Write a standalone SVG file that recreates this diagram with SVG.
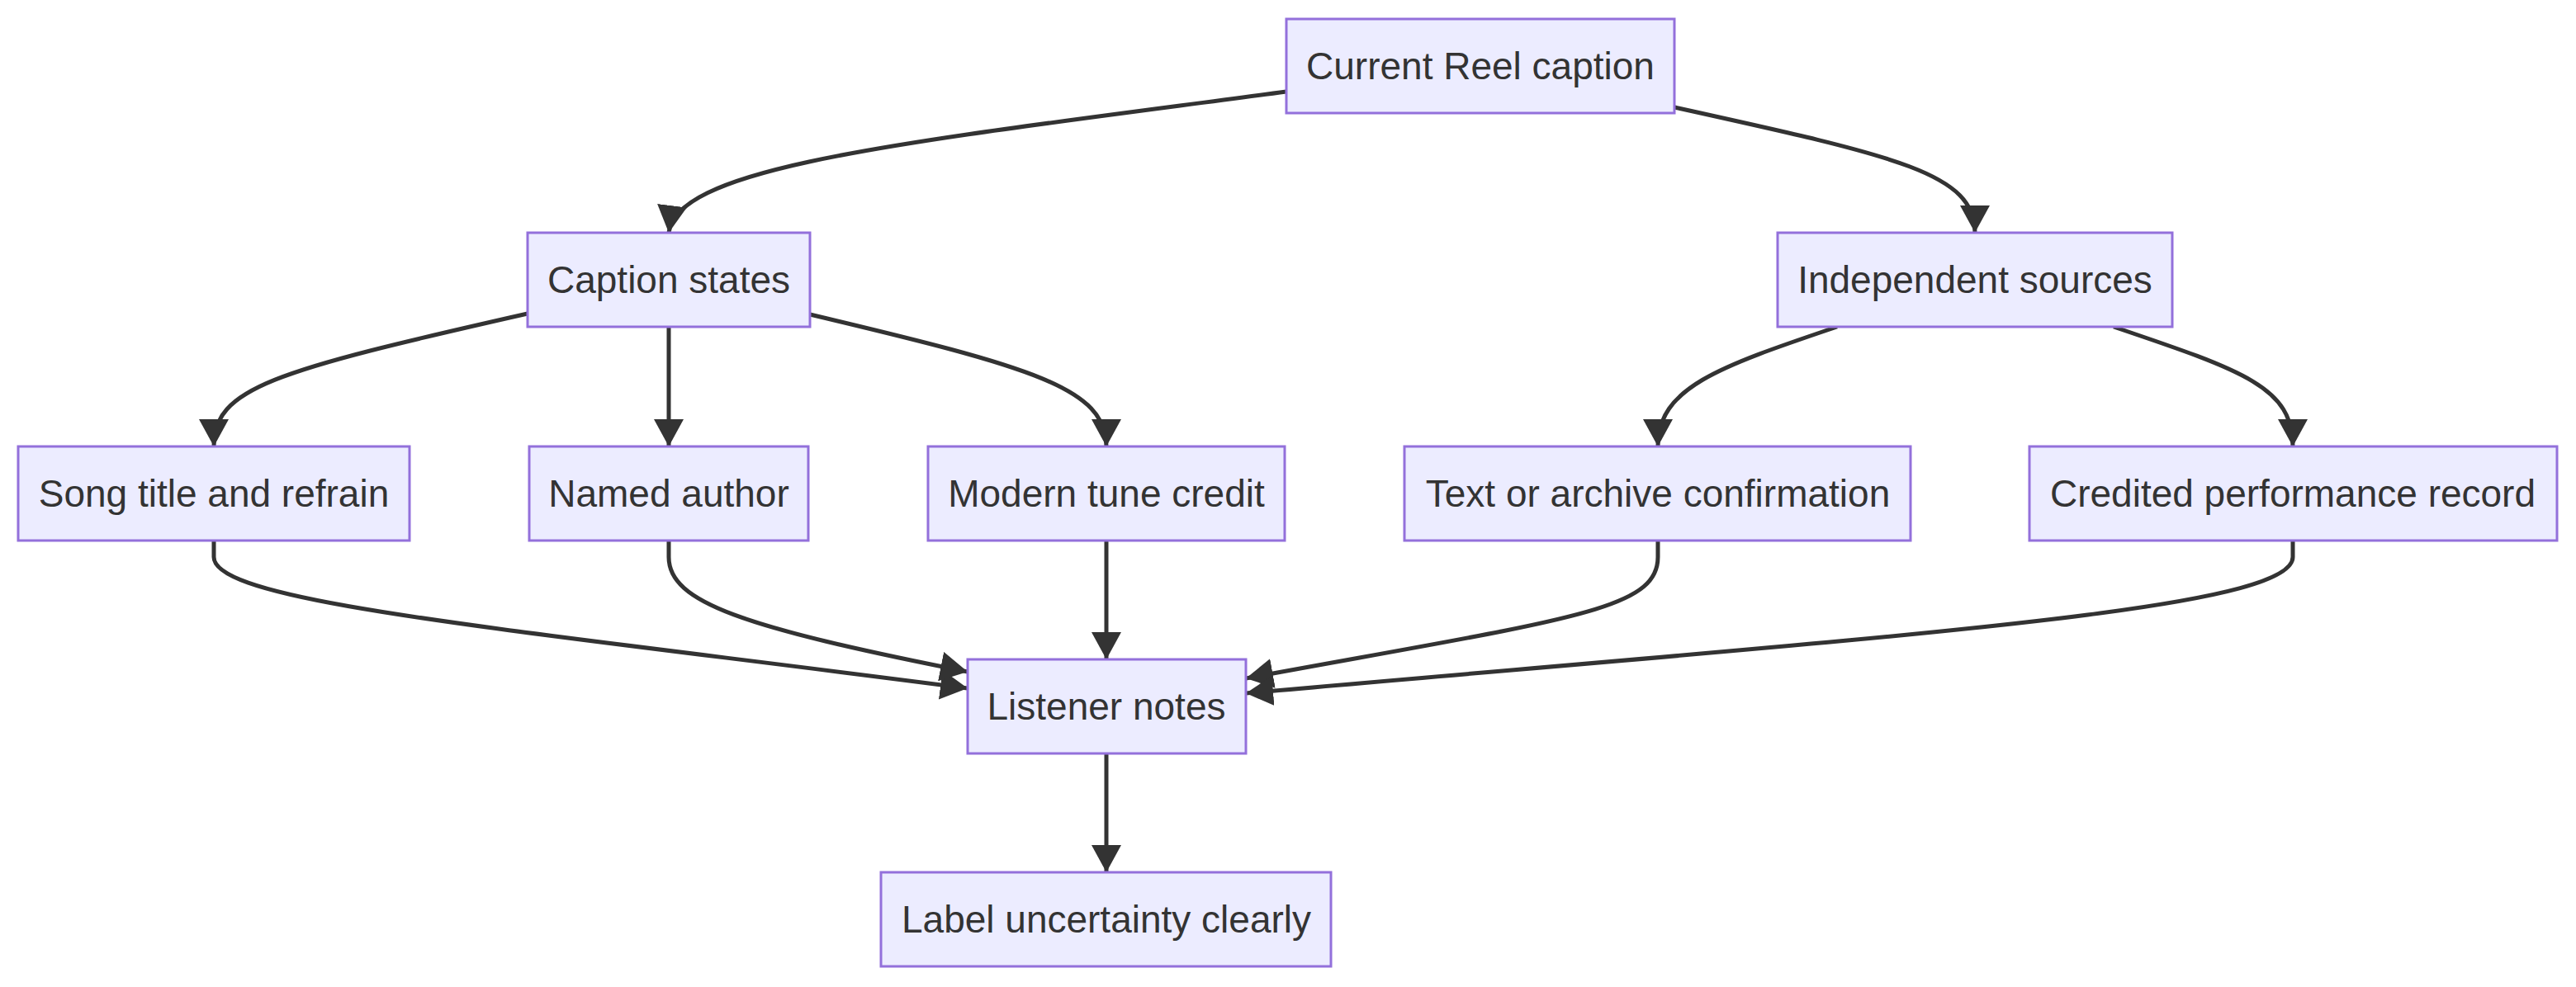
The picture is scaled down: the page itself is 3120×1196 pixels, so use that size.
<svg xmlns="http://www.w3.org/2000/svg" width="3120" height="1196" viewBox="0 0 3120 1196">
<style>
.n rect{fill:#ECECFF;stroke:#9370DB;stroke-width:3}
.n text{font-family:"Liberation Sans",Arial,sans-serif;font-size:46px;fill:#333;text-anchor:middle;dominant-baseline:central}
.e path{fill:none;stroke:#333;stroke-width:5;marker-end:url(#a)}
</style>
<defs><marker id="a" markerUnits="userSpaceOnUse" markerWidth="34" markerHeight="36" refX="33" refY="18" orient="auto"><path d="M0,0 L33,18 L0,36 z" fill="#333"/></marker></defs>
<g class="e">
<path d="M1558,111 C1100,172 820,200 810,282"/>
<path d="M2028,130 C2300,190 2392,210 2392,282"/>
<path d="M639,380 C330,450 259,470 259,541"/>
<path d="M810,396 L810,541"/>
<path d="M981,381 C1250,445 1340,470 1340,541"/>
<path d="M2225,396 C2080,445 2008,470 2008,541"/>
<path d="M2560,396 C2720,450 2777,470 2777,541"/>
<path d="M259,655 L259,675 C259,730 600,760 1172,834"/>
<path d="M810,655 L810,675 C810,730 900,760 1172,814"/>
<path d="M1340,655 L1340,799"/>
<path d="M2008,655 L2008,675 C2008,740 1900,750 1509,822"/>
<path d="M2777,655 L2777,675 C2777,740 2300,770 1509,840"/>
<path d="M1340,913 L1340,1057"/>
</g>
<g id="current" class="n"><rect x="1558" y="23" width="470" height="114"/><text x="1793" y="80">Current Reel caption</text></g>
<g id="caption" class="n"><rect x="639" y="282" width="342" height="114"/><text x="810" y="339">Caption states</text></g>
<g id="indep" class="n"><rect x="2153" y="282" width="478" height="114"/><text x="2392" y="339">Independent sources</text></g>
<g id="song" class="n"><rect x="22" y="541" width="474" height="114"/><text x="259" y="598">Song title and refrain</text></g>
<g id="named" class="n"><rect x="641" y="541" width="338" height="114"/><text x="810" y="598">Named author</text></g>
<g id="modern" class="n"><rect x="1124" y="541" width="432" height="114"/><text x="1340" y="598">Modern tune credit</text></g>
<g id="text" class="n"><rect x="1701" y="541" width="613" height="114"/><text x="2008" y="598">Text or archive confirmation</text></g>
<g id="credited" class="n"><rect x="2458" y="541" width="639" height="114"/><text x="2777" y="598">Credited performance record</text></g>
<g id="listener" class="n"><rect x="1172" y="799" width="337" height="114"/><text x="1340" y="856">Listener notes</text></g>
<g id="label" class="n"><rect x="1067" y="1057" width="545" height="114"/><text x="1340" y="1114">Label uncertainty clearly</text></g>
</svg>
